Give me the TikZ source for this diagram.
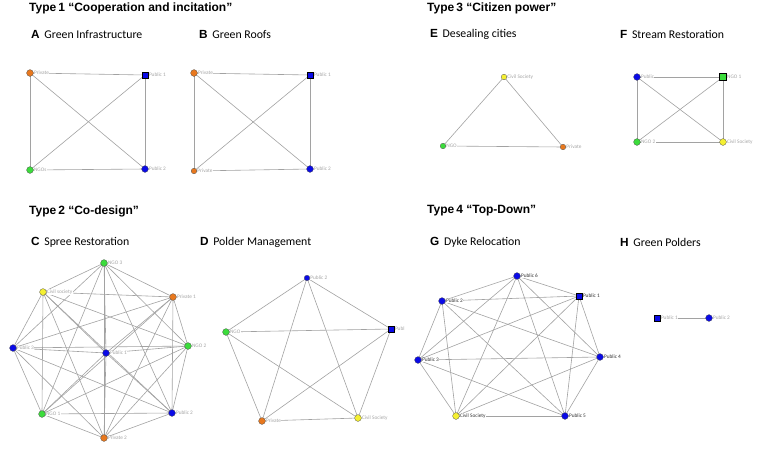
\documentclass[tikz,border=0pt]{standalone}
\usepackage{fontspec}
\setmainfont{Liberation Sans}
\newfontfamily\calfont{Carlito}
\usetikzlibrary{positioning,backgrounds}

\definecolor{orgc}{HTML}{E8781E}
\definecolor{bluc}{HTML}{0A0AE6}
\definecolor{grnc}{HTML}{3CDC3C}
\definecolor{yelc}{HTML}{F5F032}
\definecolor{edgec}{HTML}{A2A2A2}

\tikzset{
  typetitle/.style={anchor=west,inner sep=0pt,font=\bfseries\fontsize{12}{14}\selectfont},
  panelhead/.style={anchor=west,inner sep=0pt,font=\calfont\fontsize{11.8}{13}\selectfont},
  lbl/.style={font=\calfont\fontsize{5.3}{6}\selectfont,text=gray!70,fill=white,inner sep=0.3pt},
  dlbl/.style={lbl,text=black!80},
  actor/.style={circle,draw=black!70,line width=0.3pt,minimum size=6.8pt,inner sep=0pt},
  office/.style={rectangle,draw=black,line width=0.6pt,minimum size=6.4pt,inner sep=0pt},
  pvt/.style={actor,fill=orgc},
  pub/.style={actor,fill=bluc},
  ngo/.style={actor,fill=grnc},
  civ/.style={actor,fill=yelc},
  edge/.style={draw=edgec,line width=0.6pt}
}

\begin{document}
\begin{tikzpicture}[x=1pt,y=-1pt]
  \useasboundingbox (0,0) rectangle (760,450);

  % Titles
  \node[typetitle] (t1) at (29,8) {Type\,1 “Cooperation and incitation”};
  \node[typetitle] (t2) at (29,211) {Type\,2 “Co-design”};
  \node[typetitle] (t3) at (427,8) {Type\,3 “Citizen power”};
  \node[typetitle] (t4) at (427,211) {Type\,4 “Top-Down”};

  \node[panelhead] (hA) at (31,34) {\textrm{\bfseries A}\, Green Infrastructure};
  \node[panelhead] (hB) at (199,34) {\textrm{\bfseries B}\, Green Roofs};
  \node[panelhead] (hE) at (430,34) {\textrm{\bfseries E}\, Desealing cities};
  \node[panelhead] (hF) at (620,34) {\textrm{\bfseries F}\, Stream Restoration};
  \node[panelhead] (hC) at (31,242) {\textrm{\bfseries C}\, Spree Restoration};
  \node[panelhead] (hD) at (200,242) {\textrm{\bfseries D}\, Polder Management};
  \node[panelhead] (hG) at (430,242) {\textrm{\bfseries G}\, Dyke Relocation};
  \node[panelhead] (hH) at (620,242) {\textrm{\bfseries H}\, Green Polders};

  % A
  \node[pvt,label={[lbl]0:Private}] (a1) at (30,73) {};
  \node[office,fill=bluc,label={[lbl]0:Public 1}] (a2) at (145,75) {};
  \node[ngo,label={[lbl]0:NGOs}] (a3) at (30,170) {};
  \node[pub,label={[lbl]0:Public 2}] (a4) at (145,169) {};

  % B
  \node[pvt,label={[lbl]0:Private}] (b1) at (194,73) {};
  \node[office,fill=bluc,label={[lbl]0:Public 1}] (b2) at (310,75) {};
  \node[pvt,minimum size=5.6pt,label={[lbl]0:Private}] (b3) at (194,171) {};
  \node[pub,label={[lbl]0:Public 2}] (b4) at (310,169) {};

  % E
  \node[civ,minimum size=5.6pt,label={[lbl]0:Civil Society}] (e1) at (504,77) {};
  \node[ngo,minimum size=5.6pt,label={[lbl]0:NGO}] (e2) at (443,146) {};
  \node[pvt,minimum size=5.6pt,label={[lbl]0:Private}] (e3) at (563,147) {};

  % F
  \node[pub,label={[lbl]0:Public}] (f1) at (637,77) {};
  \node[office,fill=grnc,line width=0.9pt,label={[lbl]0:NGO 1}] (f2) at (723,77) {};
  \node[ngo,label={[lbl]0:NGO 2}] (f3) at (637,142) {};
  \node[civ,label={[lbl]0:Civil Society}] (f4) at (723,142) {};

  % C
  \node[ngo,label={[lbl]0:NGO 3}] (c1) at (104,263) {};
  \node[civ,label={[lbl]0:Civil society}] (c2) at (43,292) {};
  \node[pvt,label={[lbl]0:Private 1}] (c3) at (173,297) {};
  \node[pub,label={[lbl]0:Public 3}] (c4) at (13,348) {};
  \node[pub,label={[lbl]0:Public 1}] (c5) at (106,353) {};
  \node[ngo,label={[lbl]0:NGO 2}] (c6) at (188,346) {};
  \node[ngo,label={[lbl]0:NGO 1}] (c7) at (42,414) {};
  \node[pub,label={[lbl]0:Public 2}] (c8) at (172,413) {};
  \node[pvt,label={[lbl]0:Private 2}] (c9) at (104,438) {};

  % D
  \node[pub,minimum size=5.6pt,label={[lbl]0:Public 2}] (d1) at (307,278) {};
  \node[office,fill=bluc,label={[lbl]0:Publ}] (d2) at (391,329) {};
  \node[ngo,label={[lbl]0:NGO}] (d3) at (226,332) {};
  \node[pvt,label={[lbl]0:Private}] (d4) at (262,421) {};
  \node[civ,label={[lbl]0:Civil Society}] (d5) at (358,418) {};

  % G
  \node[pub,label={[dlbl]0:Public 6}] (g1) at (517,276) {};
  \node[office,fill=bluc,label={[dlbl]0:Public 1}] (g2) at (579,296) {};
  \node[pub,label={[dlbl]0:Public 2}] (g3) at (442,301) {};
  \node[pub,label={[dlbl]0:Public 3}] (g4) at (418,360) {};
  \node[pub,label={[dlbl]0:Public 4}] (g5) at (600,357) {};
  \node[civ,label={[dlbl]0:Civil Society}] (g6) at (456,416) {};
  \node[pub,label={[dlbl]0:Public 5}] (g7) at (565,416) {};

  % H
  \node[office,fill=bluc,label={[lbl]0:Public 1}] (h1) at (657,318) {};
  \node[pub,label={[lbl]0:Public 2}] (h2) at (709,318) {};

  % Edges behind the nodes
  \begin{pgfonlayer}{background}
    \foreach \u/\v in {a1/a2,a1/a3,a1/a4,a2/a3,a2/a4,a3/a4,
                       b1/b2,b1/b3,b1/b4,b2/b3,b2/b4,b3/b4,
                       e1/e2,e1/e3,e2/e3,
                       f1/f2,f1/f3,f1/f4,f2/f3,f2/f4,f3/f4,
                       h1/h2}
      \draw[edge] (\u.center) -- (\v.center);
    \foreach \i in {1,...,8}
      \foreach \j in {\i,...,9}
        {\ifnum\i<\j \draw[edge] (c\i.center) -- (c\j.center);\fi}
    \foreach \i in {1,...,4}
      \foreach \j in {\i,...,5}
        {\ifnum\i<\j \draw[edge] (d\i.center) -- (d\j.center);\fi}
    \foreach \i in {1,...,6}
      \foreach \j in {\i,...,7}
        {\ifnum\i<\j \draw[edge] (g\i.center) -- (g\j.center);\fi}
  \end{pgfonlayer}
\end{tikzpicture}
\end{document}
